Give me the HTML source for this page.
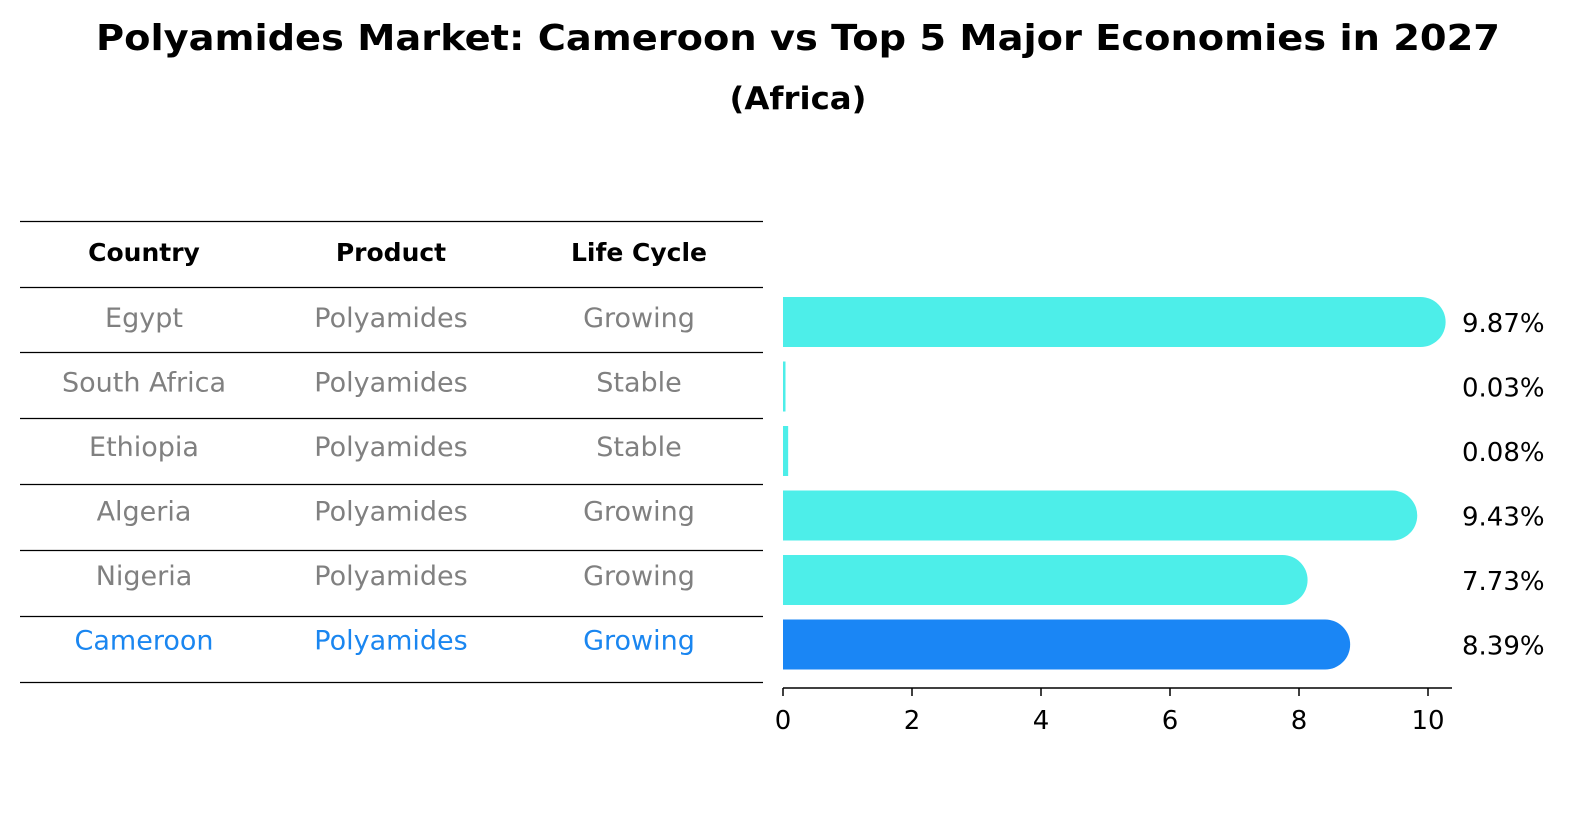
<!DOCTYPE html>
<html><head><meta charset="utf-8"><style>
body{margin:0;background:#fff;font-family:"DejaVu Sans","Liberation Sans",sans-serif;}
svg{display:block}
</style></head><body>
<svg width="1586" height="823" id="chart">
<text x="798" y="50" text-anchor="middle" font-size="36" font-weight="bold" textLength="1404" lengthAdjust="spacingAndGlyphs">Polyamides Market: Cameroon vs Top 5 Major Economies in 2027</text>
<text x="798" y="109" text-anchor="middle" font-size="31" font-weight="bold" textLength="137" lengthAdjust="spacingAndGlyphs">(Africa)</text>
<g id="table"></g>
<g id="bars"></g>
<g id="axis"></g>
</svg>
<script>
const countries=["Egypt","South Africa","Ethiopia","Algeria","Nigeria","Cameroon"];
const products=["Polyamides","Polyamides","Polyamides","Polyamides","Polyamides","Polyamides"];
const lifeCycles=["Growing","Stable","Stable","Growing","Growing","Growing"];
const values=[9.87,0.03,0.08,9.43,7.73,8.39];
const valueLabels=["9.87%","0.03%","0.08%","9.43%","7.73%","8.39%"];
const ticks=[0,2,4,6,8,10];
const NS="http://www.w3.org/2000/svg";
function mk(tag,attrs,parent,text){const e=document.createElementNS(NS,tag);for(const k in attrs)e.setAttribute(k,attrs[k]);if(text!==undefined)e.textContent=text;parent.appendChild(e);return e;}
const x=v=>783+v*64.5;
const rowY=i=>322+i*64.5;
const tbl=document.getElementById('table');
const colX=[144,391,639];
const heads=["Country","Product","Life Cycle"];
const lineYs=[221,287,352,418,484,550,616,682];
lineYs.forEach((y,i)=>{const l=mk('line',{x1:20,x2:763,y1:y+0.5,y2:y+0.5,stroke:'#000','stroke-width':1.2},tbl);

});
heads.forEach((h,j)=>{const t=mk('text',{x:colX[j],y:261,'text-anchor':'middle','font-size':25,'font-weight':'bold'},tbl,h);

});
countries.forEach((c,i)=>{
 const col=c==="Cameroon"?'#1a86f0':'#808080';
 [c,products[i],lifeCycles[i]].forEach((v,j)=>{
  const t=mk('text',{x:colX[j],y:rowY(i)+5,'text-anchor':'middle','font-size':27,fill:col},tbl,v);
  
  
 });
});
const bars=document.getElementById('bars');
values.forEach((v,i)=>{
 const x0=x(0), w=x(v)-x0;
 const top=rowY(i)-25;
 let d;
 if(w>52){const xe=x0+w+26;d=`M${x0},${top} H${xe-25} A25,25 0 0 1 ${xe-25},${top+50} H${x0} Z`;}
 else{const ww=Math.max(w,2.5);d=`M${x0},${top} h${ww} v50 h${-ww} Z`;}
 const b=mk('path',{d:d,fill:countries[i]==="Cameroon"?'#1a86f5':'#4deee9'},bars);
 
 
 const t=mk('text',{x:1462,y:rowY(i)+10,'font-size':26},bars,valueLabels[i]);
 
 
});
const ax=document.getElementById('axis');
const al=mk('line',{x1:783,x2:1452,y1:688,y2:688,stroke:'#000','stroke-width':1.5},ax);


ticks.forEach(tv=>{
 const tl=mk('line',{x1:x(tv),x2:x(tv),y1:688,y2:696,stroke:'#000','stroke-width':1.5},ax);
 
 
 const t=mk('text',{x:x(tv),y:729,'text-anchor':'middle','font-size':26},ax,String(tv));
 
 
});
</script>
</body></html>
